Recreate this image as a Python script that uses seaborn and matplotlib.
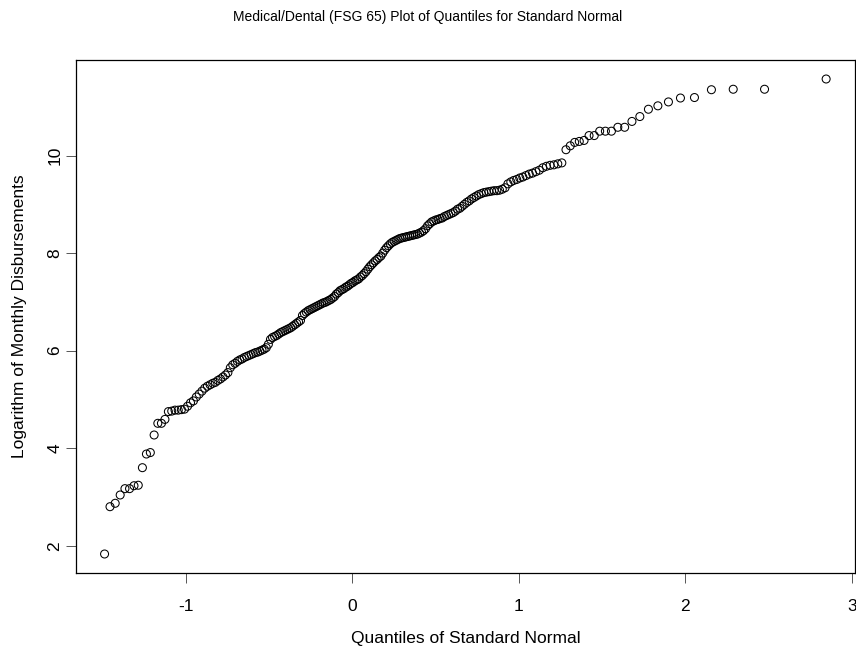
from statistics import NormalDist

import matplotlib
matplotlib.use("Agg")
import matplotlib.pyplot as plt
import numpy as np
import pandas as pd
import seaborn as sns

# Monthly medical/dental disbursements, FSG 65
months_total = 226   # months in the record
zero_months = 15     # months with nothing paid (no logarithm, not plotted)

# Sorted logarithms of the positive monthly disbursements
log_disbursements = [
    1.83, 2.80, 2.87, 3.04, 3.17, 3.17, 3.23, 3.24, 3.60, 3.88,
    3.91, 4.27, 4.51, 4.51, 4.59, 4.75, 4.76, 4.78, 4.78, 4.79,
    4.80, 4.86, 4.93, 4.97, 5.05, 5.11, 5.17, 5.23, 5.27, 5.30,
    5.33, 5.35, 5.39, 5.42, 5.46, 5.50, 5.55, 5.65, 5.71, 5.74,
    5.78, 5.81, 5.83, 5.86, 5.88, 5.90, 5.92, 5.94, 5.96, 5.97,
    5.99, 6.01, 6.03, 6.06, 6.13, 6.23, 6.27, 6.29, 6.31, 6.34,
    6.37, 6.39, 6.41, 6.43, 6.45, 6.47, 6.50, 6.53, 6.56, 6.59,
    6.62, 6.72, 6.76, 6.79, 6.82, 6.84, 6.86, 6.88, 6.90, 6.92,
    6.94, 6.96, 6.98, 6.99, 7.01, 7.03, 7.05, 7.08, 7.11, 7.16,
    7.19, 7.23, 7.25, 7.27, 7.30, 7.32, 7.35, 7.38, 7.40, 7.43,
    7.45, 7.47, 7.51, 7.54, 7.58, 7.62, 7.67, 7.72, 7.76, 7.80,
    7.84, 7.87, 7.91, 7.94, 8.00, 8.06, 8.11, 8.15, 8.19, 8.22,
    8.24, 8.26, 8.28, 8.30, 8.31, 8.32, 8.33, 8.34, 8.35, 8.36,
    8.37, 8.38, 8.39, 8.41, 8.43, 8.46, 8.50, 8.56, 8.60, 8.64,
    8.66, 8.68, 8.69, 8.71, 8.72, 8.75, 8.77, 8.79, 8.81, 8.83,
    8.86, 8.90, 8.92, 8.96, 9.00, 9.04, 9.07, 9.11, 9.14, 9.17,
    9.20, 9.22, 9.24, 9.25, 9.26, 9.27, 9.28, 9.28, 9.29, 9.31,
    9.34, 9.42, 9.46, 9.49, 9.51, 9.54, 9.56, 9.59, 9.62, 9.64,
    9.67, 9.70, 9.75, 9.78, 9.80, 9.81, 9.83, 9.85, 10.12, 10.20,
    10.27, 10.29, 10.31, 10.41, 10.41, 10.50, 10.50, 10.50, 10.58, 10.58,
    10.70, 10.80, 10.95, 11.02, 11.10, 11.18, 11.19, 11.35, 11.36, 11.36,
    11.57,
]

x_ticks = [-1, 0, 1, 2, 3]
y_ticks = [2, 4, 6, 8, 10]

title = "Medical/Dental (FSG 65) Plot of Quantiles for Standard Normal"
x_label = "Quantiles of Standard Normal"
y_label = "Logarithm of Monthly Disbursements"

# Normal plotting positions (i - 0.5) / n over the full record
ranks = np.arange(zero_months + 1, months_total + 1)
std_normal = NormalDist()
theoretical = [std_normal.inv_cdf((r - 0.5) / months_total) for r in ranks]

df = pd.DataFrame({"quantile": theoretical, "log_disb": log_disbursements})

sns.set_theme(style="white")
plt.rcParams["font.family"] = ["Liberation Sans", "DejaVu Sans"]

fig = plt.figure(figsize=(8.56, 6.5), dpi=100)
ax = fig.add_axes([75.7 / 856, 77 / 650, 779.3 / 856, 513 / 650])

sns.scatterplot(
    data=df, x="quantile", y="log_disb", ax=ax,
    marker="o", s=33, facecolor="none", edgecolor="black", linewidth=0.75,
)

ax.margins(x=0.04, y=0.04)
ax.set_xticks(x_ticks)
ax.set_yticks(y_ticks)
ax.set_xticklabels([str(t) for t in x_ticks])
ax.set_yticklabels([str(t) for t in y_ticks])

for side in ["left", "right", "top", "bottom"]:
    ax.spines[side].set_visible(True)
    ax.spines[side].set_color("black")
    ax.spines[side].set_linewidth(0.9)

ax.tick_params(axis="both", which="major", direction="out", length=7.2,
               width=0.7, color="#555555", labelsize=12.5, labelcolor="black",
               bottom=True, left=True, top=False, right=False)
ax.tick_params(axis="x", pad=11.7)
ax.tick_params(axis="y", pad=2.3)
plt.setp(ax.get_yticklabels(), rotation=90, va="center")

ax.set_xlabel(x_label, fontsize=12.5, color="black")
ax.set_ylabel(y_label, fontsize=12.5, color="black")
ax.xaxis.set_label_coords(0.5, -0.1125)
ax.yaxis.set_label_coords(-0.062, 0.5)

fig.suptitle(title, x=0.5, y=1 - 17 / 650, va="center", fontsize=10, color="black")

fig.savefig("out.png", dpi=100, facecolor="white")
